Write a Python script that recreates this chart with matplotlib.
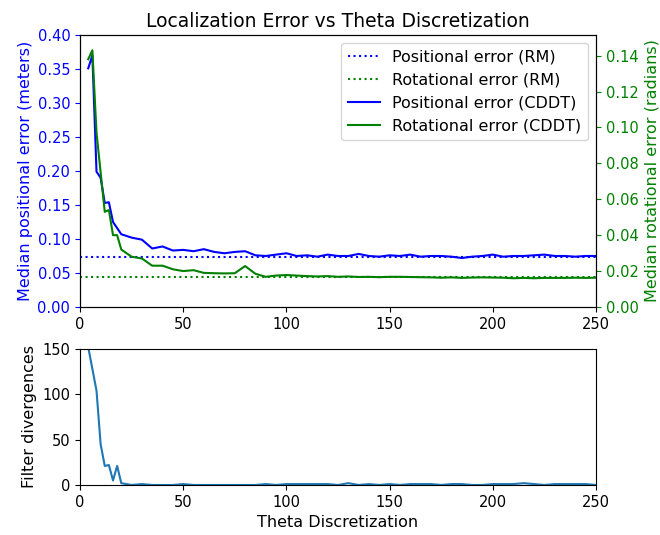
import matplotlib
matplotlib.use("Agg")
import matplotlib.pyplot as plt

# theta discretization samples
theta = [4, 6, 8, 10, 12, 14, 16, 18, 20,
         25, 30, 35, 40, 45, 50, 55, 60, 65, 70, 75, 80, 85, 90, 95, 100,
         105, 110, 115, 120, 125, 130, 135, 140, 145, 150, 155, 160, 165, 170, 175,
         180, 185, 190, 195, 200, 205, 210, 215, 220, 225, 230, 235, 240, 245, 250]

# median positional error, CDDT (meters)
pos_err_cddt = [0.351, 0.370, 0.199, 0.190, 0.153, 0.154, 0.125, 0.116, 0.107,
                0.102, 0.099, 0.086, 0.089, 0.083, 0.084, 0.082, 0.085, 0.081, 0.079, 0.081,
                0.082, 0.076, 0.075, 0.077, 0.079,
                0.075, 0.076, 0.074, 0.077, 0.075, 0.075, 0.078, 0.075, 0.074, 0.076,
                0.075, 0.077, 0.074, 0.075, 0.075,
                0.074, 0.072, 0.074, 0.075, 0.077, 0.074, 0.075, 0.075, 0.076, 0.077,
                0.075, 0.075, 0.074, 0.075, 0.075]

# median rotational error, CDDT (radians)
rot_err_cddt = [0.138, 0.143, 0.097, 0.075, 0.053, 0.054, 0.040, 0.040, 0.032,
                0.028, 0.027, 0.023, 0.023, 0.021, 0.020, 0.0205, 0.019, 0.0188, 0.0187, 0.0188,
                0.0228, 0.0185, 0.0168, 0.0175, 0.0178,
                0.0175, 0.0172, 0.0170, 0.0172, 0.0168, 0.0170, 0.0167, 0.0168, 0.0166, 0.0168,
                0.0168, 0.0167, 0.0166, 0.0165, 0.0163,
                0.0165, 0.0162, 0.0164, 0.0165, 0.0164, 0.0163, 0.0160, 0.0162, 0.0160, 0.0162,
                0.0162, 0.0162, 0.0163, 0.0162, 0.0163]

# ray marching reference values
pos_err_rm = 0.0728
rot_err_rm = 0.0167

# number of filter divergences
divergences = [152, 128, 104, 45, 21, 22, 5, 21, 2,
               0, 1, 0, 0, 0, 1, 0, 0, 0, 0, 0, 0, 0, 1, 0, 1,
               1, 1, 1, 1, 0, 2, 0, 1, 0, 1, 0, 1, 1, 1, 0,
               1, 1, 0, 0, 1, 1, 1, 2, 1, 0, 1, 1, 1, 1, 0]

fig = plt.figure(figsize=(6.6, 5.35), dpi=100)
ax = fig.add_axes([0.1212, 0.4262, 0.7818, 0.5084])
ax2 = ax.twinx()

l1 = ax.axhline(pos_err_rm, color='b', linestyle=':', lw=1.5, label='Positional error (RM)')
l2 = ax2.axhline(rot_err_rm, color='g', linestyle=':', lw=1.5, label='Rotational error (RM)')
l3, = ax.plot(theta, pos_err_cddt, color='b', lw=1.5, label='Positional error (CDDT)')
l4, = ax2.plot(theta, rot_err_cddt, color='g', lw=1.5, label='Rotational error (CDDT)')

ax.set_xlim(0, 250)
ax.set_ylim(0, 0.4)
ax2.set_ylim(0, 0.1515)
ax.set_yticks([0.0, 0.05, 0.10, 0.15, 0.20, 0.25, 0.30, 0.35, 0.40])
ax2.set_yticks([0.0, 0.02, 0.04, 0.06, 0.08, 0.10, 0.12, 0.14])
ax.yaxis.set_major_formatter(matplotlib.ticker.FormatStrFormatter('%.2f'))
ax2.yaxis.set_major_formatter(matplotlib.ticker.FormatStrFormatter('%.2f'))

ax.set_ylabel('Median positional error (meters)', color='b', fontsize=11.5, labelpad=3)
ax2.set_ylabel('Median rotational error (radians)', color='g', fontsize=11.5)
ax.tick_params(axis='y', colors='b', labelsize=10.5)
ax2.tick_params(axis='y', colors='g', labelsize=10.5)
ax.tick_params(axis='x', labelsize=10.5)
ax.set_title('Localization Error vs Theta Discretization', fontsize=13.5)

ax2.legend([l1, l2, l3, l4], [l.get_label() for l in [l1, l2, l3, l4]],
           loc='upper right', fontsize=11.5)

bx = fig.add_axes([0.1212, 0.0935, 0.7818, 0.2542])
bx.plot(theta, divergences, color='C0', lw=1.5)
bx.set_xlim(0, 250)
bx.set_ylim(0, 150)
bx.set_yticks([0, 50, 100, 150])
bx.tick_params(labelsize=10.5)
bx.set_ylabel('Filter divergences', fontsize=11.5)
bx.set_xlabel('Theta Discretization', fontsize=11.5)

fig.savefig('out.png', dpi=100)
